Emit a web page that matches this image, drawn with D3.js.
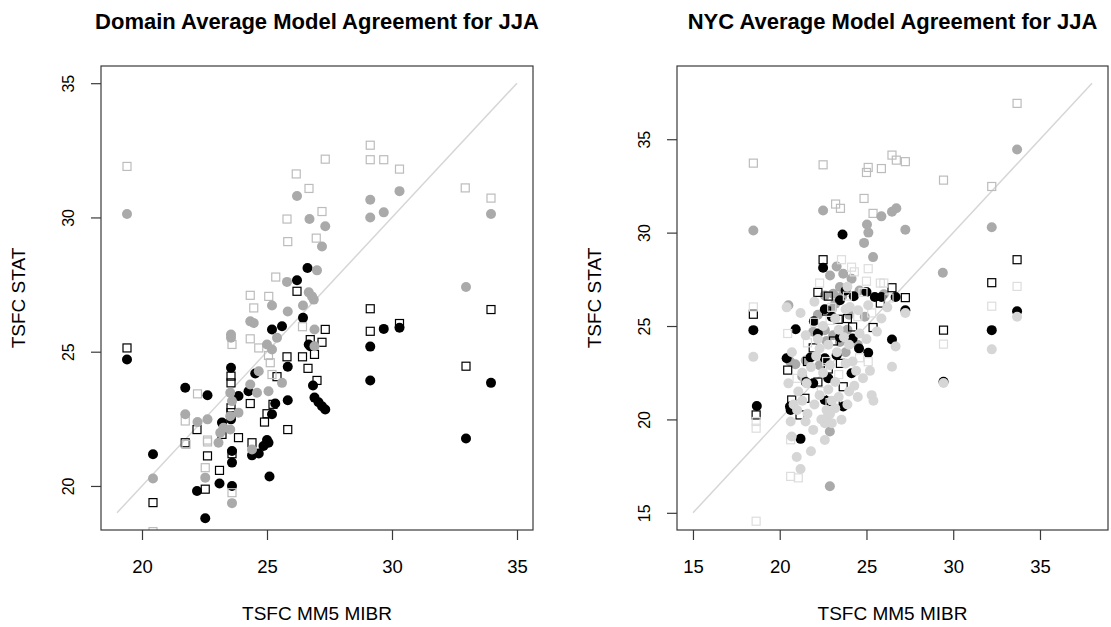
<!DOCTYPE html>
<html>
    <head>
        <style>
            body { margin: 0; background: #fff; }
            text { font-family: "Liberation Sans", Arial, sans-serif; fill: #000; }
            .title { font-weight: bold; font-size: 22px; }
            .axlab { font-size: 19px; }
            .xtick text { font-size: 18.5px; }
            .ytick text { font-size: 16px; }
        </style>
        <script src="https://d3js.org/d3.v7.min.js"></script>
    </head>
    <body>
        <svg width="1111" height="627"></svg>
        <script>
            // ---- data: [MM5 MIBR, STAT] pairs ----
            var leftTitle = "Domain Average Model Agreement for JJA",
                rightTitle = "NYC Average Model Agreement for JJA",
                xLabel = "TSFC MM5 MIBR",
                yLabel = "TSFC STAT";

            var leftLimits = [19, 35],
                rightLimits = [15, 38];
            var leftXTicks = [20, 25, 30, 35], leftYTicks = [20, 25, 30, 35];
            var rightXTicks = [15, 20, 25, 30, 35], rightYTicks = [15, 20, 25, 30, 35];

            var leftSqGray = [[19.4,31.9],[26.17,31.62],[27.33,32.17],[26.68,31.08],[25.8,29.94],[27.2,30.22],[25.83,29.1],
                [26.97,29.23],[29.13,32.69],[29.13,32.15],[29.67,32.15],[30.3,31.8],[32.93,31.1],[33.96,30.72],[25.35,27.78],
                [24.33,27.1],[25.07,27.06],[24.47,26.63],[26.42,25.93],[23.6,25.27],[24.33,25.48],[24.67,25.14],[25.2,24.15],
                [25.13,24.59],[25.06,24.86],[22.22,23.43],[21.73,22.42],[22.62,21.71],[21.76,21.55],[22.62,21.64],[22.53,20.68],
                [23.6,19.75],[20.44,18.3],[35.9,27.8]];
            var leftDotGray = [[19.4,30.13],[26.2,30.8],[26.7,29.94],[27.33,29.67],[27.2,28.92],[29.13,30.66],[29.13,30.0],
                [29.67,30.19],[30.3,30.98],[33.96,30.13],[27.0,28.03],[25.8,27.6],[26.67,27.21],[26.8,27.06],[26.87,26.94],
                [25.2,26.72],[25.83,26.5],[26.44,26.72],[24.33,26.13],[24.47,26.07],[26.9,25.83],[23.56,25.64],[23.56,25.52],
                [25.0,25.27],[25.2,25.08],[25.4,25.52],[26.9,25.2],[32.96,27.41],[24.33,23.78],[24.6,23.47],[25.06,23.53],
                [25.6,23.84],[24.67,24.27],[23.53,23.47],[23.6,23.16],[23.86,22.73],[23.53,22.6],[21.73,22.67],[22.22,22.38],
                [22.62,22.48],[23.13,21.98],[23.53,22.1],[23.26,22.17],[23.06,21.61],[24.4,21.36],[20.44,20.28],[22.53,20.31],
                [23.6,19.36]];
            var leftSqBlack = [[26.2,27.25],[27.33,25.83],[26.73,25.45],[27.2,25.35],[26.9,24.9],[29.13,26.6],[29.13,25.76],
                [30.3,26.05],[33.96,26.57],[32.96,24.46],[19.4,25.14],[25.8,24.81],[26.42,24.81],[26.64,24.38],[27.0,23.93],
                [25.0,22.69],[24.9,22.38],[25.83,22.1],[25.24,23.04],[25.4,24.07],[23.56,24.09],[23.56,23.84],[24.33,23.07],
                [23.56,22.91],[23.56,22.73],[22.2,22.1],[23.2,21.92],[23.86,21.8],[21.73,21.61],[24.4,21.61],[22.62,21.12],
                [23.6,21.2],[23.1,20.58],[22.53,19.88],[20.44,19.38]];
            var leftDotBlack = [[26.62,28.12],[26.2,27.66],[26.44,26.26],[25.2,25.83],[25.6,25.95],[26.67,25.27],[26.73,25.2],
                [29.67,25.85],[30.3,25.89],[29.13,25.19],[29.13,23.93],[33.96,23.84],[32.96,21.77],[19.4,24.71],[25.83,24.44],
                [26.84,23.74],[26.9,23.29],[27.06,23.12],[27.2,22.97],[27.33,22.85],[25.83,23.19],[25.33,23.07],[25.2,22.67],
                [21.73,23.66],[22.62,23.38],[23.56,24.4],[24.53,24.19],[24.26,23.53],[23.86,23.35],[23.56,22.48],[23.2,22.36],
                [25.0,21.71],[25.06,21.61],[24.86,21.49],[20.44,21.18],[23.6,21.3],[23.6,20.87],[24.4,21.14],[24.67,21.21],
                [23.1,20.09],[22.2,19.81],[23.6,20.0],[22.53,18.8],[25.1,20.35],[35.9,25.15]];

            var rightSqGray = [[18.48,33.72],[22.5,33.63],[23.22,31.53],[23.5,31.3],[24.86,31.83],[25.1,33.49],[25.0,33.22],
                [25.86,33.43],[26.47,34.15],[26.72,33.88],[27.24,33.8],[25.38,31.03],[29.44,32.81],[32.22,32.47],[33.68,36.92]];
            var rightDotGray = [[18.48,30.11],[22.5,31.18],[25.03,30.43],[25.11,30.0],[24.86,29.45],[25.38,28.69],[25.86,30.87],
                [26.47,31.12],[26.72,31.3],[27.24,30.15],[32.22,30.29],[33.68,34.45],[29.4,27.85],[23.28,28.19],[23.66,27.8],
                [24.14,27.53],[22.6,26.64],[23.08,26.73],[23.47,27.09],[20.5,26.11],[21.93,24.69],[22.6,24.78],[23.08,24.51],
                [23.47,24.15],[20.6,23.1],[20.9,22.95],[21.5,23.15],[22.89,19.35],[22.89,16.42],
                [23.6,26.6],[24.0,25.6],[24.6,26.9],[23.0,25.9],[22.2,25.6],[24.9,25.5],[23.9,24.8],[22.7,24.2],[24.5,24.0],
                [21.3,22.3],[22.3,22.9],[23.8,23.6],[23.2,26.2],[22.9,27.7],[26.0,26.7]];
            var rightSqBlack = [[22.5,28.55],[33.68,28.55],[32.22,27.32],[29.44,24.78],[18.48,25.63],[26.47,27.05],[27.24,26.52],
                [25.8,26.23],[25.38,24.92],[24.2,24.95],[23.37,25.36],[21.93,23.83],[20.46,22.64],[23.66,21.75],[21.45,21.13],
                [20.69,21.04],[18.64,20.24],[21.17,20.24],[22.7,25.8],[23.1,24.2],[22.2,22.0],[23.5,23.0],[22.8,26.6],
                [22.2,26.8],[22.8,22.7],[23.2,20.9],[21.6,23.1],[23.9,25.4]];
            var rightDotBlack = [[23.62,29.9],[22.5,28.12],[33.68,25.79],[32.22,24.78],[29.44,22.02],[18.48,24.78],[25.0,26.82],
                [25.48,26.55],[25.86,26.55],[26.68,26.55],[24.27,26.59],[23.47,26.38],[27.24,25.84],[21.97,25.26],[20.92,24.83],
                [23.47,24.39],[24.2,24.33],[24.57,23.8],[25.1,23.57],[26.47,24.28],[20.4,23.27],[21.78,23.32],[22.6,23.27],
                [23.28,23.44],[21.93,21.93],[24.14,22.47],[18.68,20.72],[20.59,20.69],[22.6,21.04],[22.89,20.95],[23.66,20.69],
                [20.63,20.51],[21.2,18.96],[22.2,24.6],[23.0,25.5],[22.8,22.2],[21.5,22.0],[23.8,26.9],[22.6,25.9]];
            var rightSqLight = [[23.56,28.55],[24.14,28.15],[25.1,28.07],[25.0,27.4],[33.68,27.12],[32.22,26.06],[29.44,24.03],
                [18.48,26.02],[20.46,24.6],[25.1,23.09],[18.64,19.53],[20.63,16.95],[21.07,16.87],[20.63,18.91],[18.64,14.55],
                [22.3,27.3],[23.0,26.0],[24.5,25.5],[21.0,22.2],[22.4,21.5],[24.6,23.3],[25.3,25.7],[26.0,27.3],[18.64,19.89],
                [22.0,25.2],[23.9,26.6],[24.8,26.8],[22.7,23.1],[23.4,22.4],[21.6,24.1],[22.9,25.3],[24.3,27.9],[25.8,27.3],
                [26.3,26.5],[22.9,20.9]];
            var rightDotLight = [[33.68,25.5],[32.22,23.75],[29.44,21.95],[18.48,23.35],[24.04,26.02],[24.52,25.84],[25.1,26.11],
                [25.86,25.4],[27.24,25.7],[26.68,23.9],[26.47,22.82],[20.5,21.93],[21.07,21.49],[21.55,21.93],[24.0,21.5],
                [24.5,21.2],[25.3,21.3],[25.4,21.0],[20.63,19.89],[20.69,19.09],[20.98,17.99],[21.2,17.35],[21.49,19.89],
                [21.93,19.44],[22.7,20.07],[23.56,19.98],[22.7,20.5],[23.0,21.0],[22.5,22.5],[23.2,22.0],[22.3,23.8],[21.5,24.5],
                [22.8,24.0],[24.0,24.0],[23.8,23.0],[20.4,26.0],
                [21.0,20.5],[21.3,21.0],[21.6,20.3],[22.0,20.8],[22.3,21.3],[22.6,19.8],[22.9,20.3],[23.2,20.6],[23.0,19.8],
                [22.4,20.0],[22.8,21.6],[23.4,21.2],[23.9,20.8],[24.3,21.8],[24.8,22.2],[25.2,22.6],[21.3,22.5],[21.8,22.8],
                [22.1,23.4],[22.9,22.9],[23.3,23.6],[23.7,24.4],[24.2,23.1],[24.6,24.6],[25.0,24.3],[22.5,25.0],[23.2,25.4],
                [23.8,25.9],[22.0,26.3],[21.2,25.7],[20.7,23.6],[22.6,18.9],[21.8,18.3],[23.4,24.8],[24.4,22.6],[22.2,24.3],
                [23.9,27.1],[25.6,24.7],[26.2,26.0],[20.8,20.8]];

            var svg = d3.select("svg");

            function drawPanel(p) {
                var pad = (p.lim[1] - p.lim[0]) * 0.04;
                var x = d3.scaleLinear().domain([p.lim[0] - pad, p.lim[1] + pad]).range([p.left, p.right]);
                var y = d3.scaleLinear().domain([p.lim[0] - pad, p.lim[1] + pad]).range([p.bottom, p.top]);
                var cx = (p.left + p.right) / 2, cy = (p.top + p.bottom) / 2;

                svg.append("clipPath").attr("id", p.id)
                   .append("rect").attr("x", p.left).attr("y", p.top)
                   .attr("width", p.right - p.left).attr("height", p.bottom - p.top);

                var g = svg.append("g").attr("clip-path", "url(#" + p.id + ")");

                // 1:1 line
                g.append("line")
                 .attr("x1", x(p.lim[0])).attr("y1", y(p.lim[0]))
                 .attr("x2", x(p.lim[1])).attr("y2", y(p.lim[1]))
                 .attr("stroke", "#d6d6d6").attr("stroke-width", 1.5);

                p.series.forEach(function(s) {
                    if (s.shape == "sq") {
                        g.selectAll(null).data(s.data).enter().append("rect")
                         .attr("x", function(d) { return x(d[0]) - 4; })
                         .attr("y", function(d) { return y(d[1]) - 4; })
                         .attr("width", 8).attr("height", 8)
                         .attr("fill", "none").attr("stroke", s.color).attr("stroke-width", 1.2);
                    } else {
                        g.selectAll(null).data(s.data).enter().append("circle")
                         .attr("cx", function(d) { return x(d[0]); })
                         .attr("cy", function(d) { return y(d[1]); })
                         .attr("r", 5).attr("fill", s.color);
                    }
                });

                svg.append("rect").attr("x", p.left).attr("y", p.top)
                   .attr("width", p.right - p.left).attr("height", p.bottom - p.top)
                   .attr("fill", "none").attr("stroke", "#3a3a3a").attr("stroke-width", 1.2);

                var xa = svg.append("g").attr("class", "xtick")
                            .attr("transform", "translate(0," + p.bottom + ")")
                            .call(d3.axisBottom(x).tickValues(p.xTicks).tickSize(10).tickFormat(d3.format("d")));
                xa.select(".domain").remove();
                xa.selectAll("line").attr("stroke", "#3a3a3a").attr("stroke-width", 1.2);
                xa.selectAll("text").attr("y", 43).attr("dy", 0).attr("font-family", null).attr("font-size", null);

                var ya = svg.append("g").attr("class", "ytick")
                            .attr("transform", "translate(" + p.left + ",0)")
                            .call(d3.axisLeft(y).tickValues(p.yTicks).tickSize(10).tickFormat(d3.format("d")));
                ya.select(".domain").remove();
                ya.selectAll("line").attr("stroke", "#3a3a3a").attr("stroke-width", 1.2);
                ya.selectAll("text").attr("transform", "rotate(-90)")
                  .attr("x", 0).attr("y", -27).attr("dy", 0)
                  .attr("text-anchor", "middle").attr("font-family", null).attr("font-size", null);

                svg.append("text").attr("class", "title")
                   .attr("x", cx).attr("y", 29).attr("text-anchor", "middle").text(p.title);
                svg.append("text").attr("class", "axlab")
                   .attr("x", cx).attr("y", 620).attr("text-anchor", "middle").text(xLabel);
                svg.append("text").attr("class", "axlab")
                   .attr("transform", "translate(" + (p.left - 76) + "," + cy + ") rotate(-90)")
                   .attr("text-anchor", "middle").text(yLabel);
            }

            drawPanel({
                id: "clipL", title: leftTitle, lim: leftLimits,
                left: 101, right: 533, top: 66, bottom: 530,
                xTicks: leftXTicks, yTicks: leftYTicks,
                series: [
                    {data: leftSqBlack, shape: "sq", color: "#000"},
                    {data: leftDotBlack, shape: "dot", color: "#000"},
                    {data: leftSqGray, shape: "sq", color: "#bcbcbc"},
                    {data: leftDotGray, shape: "dot", color: "#aaaaaa"}
                ]
            });

            drawPanel({
                id: "clipR", title: rightTitle, lim: rightLimits,
                left: 677, right: 1108, top: 66, bottom: 530,
                xTicks: rightXTicks, yTicks: rightYTicks,
                series: [
                    {data: rightSqGray, shape: "sq", color: "#bcbcbc"},
                    {data: rightDotGray, shape: "dot", color: "#aaaaaa"},
                    {data: rightSqBlack, shape: "sq", color: "#000"},
                    {data: rightDotBlack, shape: "dot", color: "#000"},
                    {data: rightSqLight, shape: "sq", color: "#dddddd"},
                    {data: rightDotLight, shape: "dot", color: "#d6d6d6"}
                ]
            });
        </script>
    </body>
</html>
